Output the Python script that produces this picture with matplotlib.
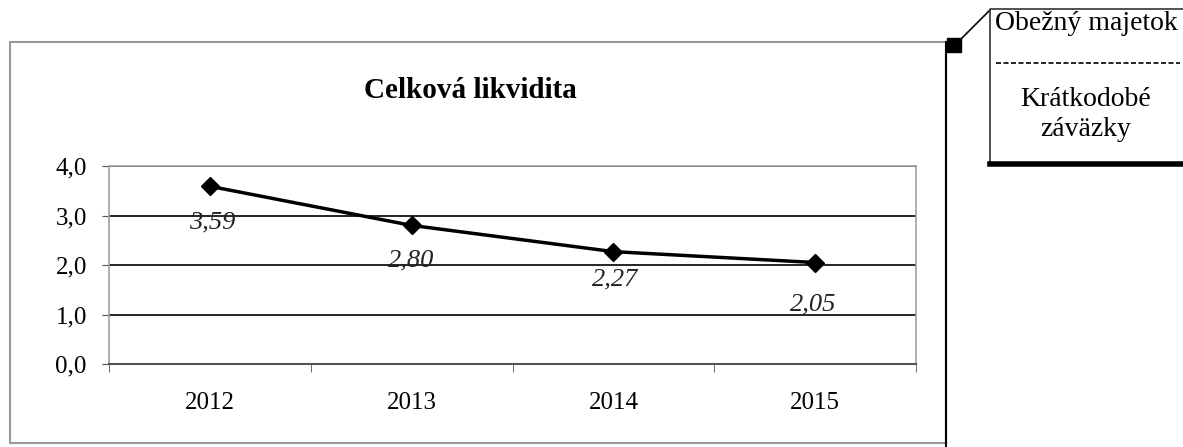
import matplotlib.pyplot as plt
from matplotlib.patches import Rectangle
from matplotlib.lines import Line2D

# data
years = ["2012", "2013", "2014", "2015"]
likvidita = [3.59, 2.80, 2.27, 2.05]
label_texts = ["3,59", "2,80", "2,27", "2,05"]
y_ticks = [0.0, 1.0, 2.0, 3.0, 4.0]
y_tick_labels = ["0,0", "1,0", "2,0", "3,0", "4,0"]

plt.rcParams["font.family"] = ["Liberation Serif", "DejaVu Serif"]

W, H = 1183, 447
fig = plt.figure(figsize=(W / 100, H / 100), dpi=100)


def fx(px):
    return px / W


def fy(py):
    return 1 - py / H


# outer frame of the chart
fig.add_artist(Rectangle((fx(10), fy(443)), fx(936), 401 / H, transform=fig.transFigure,
                         fill=False, edgecolor="#9a9a9a", linewidth=1.5))
fig.add_artist(Line2D([fx(946), fx(946)], [fy(42), 0], transform=fig.transFigure,
                      color="black", linewidth=1.5))

ax = fig.add_axes([fx(109), fy(364), fx(916) - fx(109), (364 - 166) / H])
x = list(range(len(years)))
ax.plot(x, likvidita, color="black", linewidth=2.5, marker="D", markersize=9, zorder=3)

# data labels under the points
offsets = [(2, -36), (0, -35), (2, -28), (-2, -42)]
for xi, yi, txt, off in zip(x, likvidita, label_texts, offsets):
    ax.annotate(txt, (xi, yi), xytext=off, textcoords="offset pixels",
                ha="center", va="center", fontsize=19, style="italic", color="#222222")

ax.set_xlim(-0.5, len(years) - 0.5)
ax.set_ylim(0, 4)
ax.set_xticks(x)
ax.set_xticklabels(years, fontsize=18)
ax.set_xticks([i - 0.5 for i in range(len(years) + 1)], minor=True)
ax.tick_params(axis="x", which="major", length=0, pad=20)
ax.tick_params(axis="x", which="minor", length=6, color="#555555")
ax.set_yticks(y_ticks)
ax.set_yticklabels(y_tick_labels, fontsize=18)
ax.tick_params(axis="y", length=5, color="#555555", pad=11)

ax.yaxis.grid(True, color="black", linewidth=1.2)
ax.set_axisbelow(True)
for side in ["top", "left", "right"]:
    ax.spines[side].set_color("#a0a0a0")
    ax.spines[side].set_linewidth(1.2)
ax.spines["bottom"].set_color("#555555")
ax.spines["bottom"].set_linewidth(1.5)

fig.text(fx(470), fy(91), "Celková likvidita", ha="center", va="center",
         fontsize=21, fontweight="bold")

# callout box with the formula
fig.add_artist(Rectangle((fx(947), fy(52)), fx(14), 14 / H, transform=fig.transFigure,
                         facecolor="black", edgecolor="black"))
fig.add_artist(Line2D([fx(960), fx(990)], [fy(40), fy(10)], transform=fig.transFigure,
                      color="black", linewidth=1.2))
fig.add_artist(Line2D([fx(990), fx(990), fx(1183)], [fy(163), fy(9), fy(9)],
                      transform=fig.transFigure, color="#333333", linewidth=1.2))
fig.add_artist(Line2D([fx(990), fx(1183)], [fy(164), fy(164)],
                      transform=fig.transFigure, color="black", linewidth=4))
fig.add_artist(Line2D([fx(996), fx(1180)], [fy(63), fy(63)], transform=fig.transFigure,
                      color="black", linewidth=1.2, linestyle=(0, (3, 1.5))))
fig.text(fx(1086), fy(23), "Obežný majetok", ha="center", va="center", fontsize=20)
fig.text(fx(1086), fy(100), "Krátkodobé", ha="center", va="center", fontsize=20)
fig.text(fx(1086), fy(130), "záväzky", ha="center", va="center", fontsize=20)

fig.savefig("out.png", dpi=100)
